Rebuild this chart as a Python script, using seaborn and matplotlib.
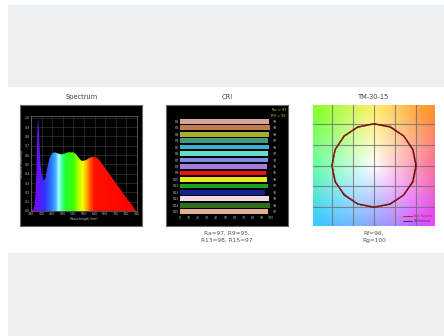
import numpy as np
import matplotlib
matplotlib.use("Agg")
import matplotlib.pyplot as plt
from matplotlib.patches import Rectangle
from matplotlib.lines import Line2D
from matplotlib.colors import LinearSegmentedColormap
import seaborn as sns
import pandas as pd

# ---------------- data ----------------
wavelength_nm = [380, 390, 395, 400, 403, 406, 409, 412, 416, 420, 425, 430, 435, 440,
                 450, 460, 470, 480, 490, 500, 510, 520, 530, 540, 550, 560, 570, 580,
                 590, 600, 610, 620, 630, 640, 660, 680, 700, 720, 740, 760, 776, 780]
relative_power = [0.0, 0.02, 0.08, 0.38, 0.75, 1.0, 0.92, 0.7, 0.5, 0.4, 0.34, 0.33, 0.36, 0.45,
                  0.57, 0.62, 0.63, 0.62, 0.61, 0.61, 0.62, 0.63, 0.63, 0.63, 0.61, 0.57, 0.54, 0.54,
                  0.55, 0.57, 0.58, 0.58, 0.57, 0.54, 0.46, 0.38, 0.30, 0.22, 0.14, 0.07, 0.0, 0.0]
spec_xticks = [380, 420, 460, 500, 540, 580, 620, 660, 700, 740, 780]
spec_yticks = [0.0, 0.1, 0.2, 0.3, 0.4, 0.5, 0.6, 0.7, 0.8, 0.9, 1.0]

cri_labels = ["R1", "R2", "R3", "R4", "R5", "R6", "R7", "R8", "R9", "R10",
              "R11", "R12", "R13", "R14", "R15"]
cri_values = [98, 99, 98, 97, 98, 97, 97, 96, 95, 96, 97, 93, 98, 99, 97]
cri_xticks = [0, 10, 20, 30, 40, 50, 60, 70, 80, 90, 100]
cri_colors = ["#d6a59c", "#c07c4c", "#a8ae2a", "#3f9a80", "#3cb0d0", "#5ee0c8",
              "#7f8ce6", "#a07ee0", "#f01010", "#e8e820", "#20a020", "#14208c",
              "#f0d8e0", "#2a6e1e", "#e8b090"]
ra_value = 97

hue_bin_deg = [0, 22.5, 45, 67.5, 90, 112.5, 135, 157.5, 180, 202.5, 225, 247.5,
               270, 292.5, 315, 337.5]
ref_radius = [1.0] * 16
test_radius = [1.01, 0.99, 1.0, 1.02, 1.0, 0.99, 1.01, 1.0, 0.99, 1.01, 0.98, 1.0,
               1.01, 0.99, 1.0, 1.02]

titles = ["Spectrum", "CRI", "TM-30-15"]
cri_caption = "Ra=97, R9=95,\nR13=98, R15=97"
tm_caption = "Rf=96,\nRg=100"

# ---------------- figure ----------------
sns.set_theme(style="white")
plt.rcParams['font.family'] = ['DejaVu Sans']
W, H = 444, 336
fig = plt.figure(figsize=(W / 100, H / 100), dpi=100)
fig.patch.set_facecolor("white")

def fr(x0, y0, x1, y1):
    return [x0 / W, 1 - y1 / H, (x1 - x0) / W, (y1 - y0) / H]

gray = "#edf0f3"
fig.patches.append(Rectangle((8 / W, 1 - 87 / H), 1, (87 - 5) / H, transform=fig.transFigure,
                             facecolor=gray, edgecolor="none", zorder=-10))
fig.patches.append(Rectangle((8 / W, 0), 1, (336 - 253) / H, transform=fig.transFigure,
                             facecolor=gray, edgecolor="none", zorder=-10))

title_col = "#444444"
for cx, t in zip([82, 227, 374], titles):
    fig.text(cx / W, 1 - 97 / H, t, ha="center", va="center", fontsize=4.8, color=title_col)

tick_col = "#b8b8b8"
tfs = 2.3

def frame(box):
    a = fig.add_axes(fr(*box))
    a.set_facecolor("black")
    a.set_xticks([]); a.set_yticks([])
    for s in a.spines.values():
        s.set_color("#6a6a6a"); s.set_linewidth(0.8)
    return a

# ---------------- Spectrum ----------------
frame((20, 105, 142, 226))
ax = fig.add_axes(fr(31, 116, 137, 211))
ax.set_facecolor("black")
ax.set_xlim(380, 780)
ax.set_ylim(0, 1.02)
ax.set_xticks(spec_xticks)
ax.set_yticks(spec_yticks)
ax.set_xticklabels([str(v) for v in spec_xticks])
ax.set_yticklabels([f"{v:.1f}" for v in spec_yticks])
ax.tick_params(labelsize=tfs, colors=tick_col, length=0, pad=1)
ax.grid(True, color="#3c3c3c", linewidth=0.4)
for s in ax.spines.values():
    s.set_color("#707070"); s.set_linewidth(0.5)
ax.set_xlabel("Wavelength (nm)", fontsize=tfs, color=tick_col, labelpad=0.5)
ax.set_ylabel("Relative Intensity", fontsize=tfs, color=tick_col, labelpad=0.5)

poly = ax.fill_between(wavelength_nm, relative_power, 0, facecolor="none", edgecolor="none")
stops = [(380, "#7a00ff"), (405, "#6a10ff"), (430, "#3030ff"), (455, "#3070ff"),
         (472, "#40b0ff"), (485, "#b0ffff"), (495, "#40ffa0"), (510, "#20ff30"),
         (540, "#40ff00"), (560, "#b0ff00"), (575, "#ffff00"), (590, "#ffb000"),
         (605, "#ff5000"), (620, "#ff1000"), (780, "#ff0000")]
cmap = LinearSegmentedColormap.from_list(
    "spec", [((w - 380) / 400, c) for w, c in stops])
grad = np.linspace(0, 1, 400)[None, :]
im = ax.imshow(grad, cmap=cmap, extent=[380, 780, 0, 1.02], aspect="auto", origin="lower", zorder=2)
im.set_clip_path(poly.get_paths()[0], transform=ax.transData)
sns.lineplot(x=wavelength_nm, y=relative_power, ax=ax, color="none", linewidth=0, zorder=3,
             estimator=None)

# ---------------- CRI ----------------
frame((166, 105, 288, 226))
ax2 = fig.add_axes(fr(180, 118, 271, 215))
ax2.set_facecolor("black")
df = pd.DataFrame({"label": cri_labels, "value": cri_values})
sns.barplot(data=df, x="value", y="label", hue="label", palette=cri_colors, orient="h",
            width=0.74, ax=ax2, legend=False, saturation=1, edgecolor="none")
ax2.set_xlim(0, 100)
ax2.set_xticks(cri_xticks)
ax2.set_xlabel(""); ax2.set_ylabel("")
ax2.tick_params(labelsize=tfs, colors=tick_col, length=0, pad=1)
for s in ax2.spines.values():
    s.set_visible(False)
ylim = ax2.get_ylim()
axr = ax2.twinx()
axr.set_ylim(ylim)
axr.set_yticks(range(len(cri_values)))
axr.set_yticklabels([str(v) for v in cri_values])
axr.tick_params(labelsize=tfs, colors=tick_col, length=0, pad=1.5)
for s in axr.spines.values():
    s.set_visible(False)
axr.grid(False)
fig.text(286 / W, 1 - 109.5 / H, f"Ra = {ra_value}", ha="right", va="center",
         fontsize=2.6, color="#c8c818")
fig.text(286 / W, 1 - 116 / H, f"R9 = {cri_values[8]}", ha="right", va="center",
         fontsize=2.6, color="#c8c818")
fig.text(227 / W, 1 - 237 / H, cri_caption, ha="center", va="center", fontsize=4.2,
         color="#555555", linespacing=1.5)

# ---------------- TM-30 ----------------
ax3 = fig.add_axes(fr(313, 105, 435, 226))
lim = 1.45
n = 300
g = np.linspace(-lim, lim, n)
X, Y = np.meshgrid(g, g)
theta = np.degrees(np.arctan2(Y, X)) % 360
hstops = [0, 45, 90, 135, 180, 225, 270, 315, 360]
hcols = np.array([[1.0, 0.30, 0.50], [1.0, 0.58, 0.22], [1.0, 0.92, 0.25], [0.55, 1.0, 0.20],
                  [0.25, 1.0, 0.55], [0.25, 0.80, 1.0], [0.45, 0.55, 1.0], [0.88, 0.30, 1.0],
                  [1.0, 0.30, 0.50]])
rgb = np.stack([np.interp(theta, hstops, hcols[:, k]) for k in range(3)], -1)
r = np.hypot(X, Y) / lim
s = np.clip(r / 1.25, 0, 1) ** 0.9
img = 1 - s[..., None] * (1 - rgb)
ax3.imshow(img, extent=[-lim, lim, -lim, lim], origin="lower", aspect="auto", zorder=0)
ax3.set_xlim(-lim, lim); ax3.set_ylim(-lim, lim)
ax3.set_xticks([-1, -0.5, 0, 0.5, 1]); ax3.set_yticks([-1, -0.5, 0, 0.5, 1])
ax3.grid(True, color="#707070", linewidth=0.8, alpha=0.8)
ax3.tick_params(length=0, labelleft=False, labelbottom=False)
for sp in ax3.spines.values():
    sp.set_visible(False)

ang = np.radians(hue_bin_deg + [hue_bin_deg[0]])
rr = np.array(ref_radius + [ref_radius[0]])
tr = np.array(test_radius + [test_radius[0]])
ref_df = pd.DataFrame({"x": rr * np.cos(ang), "y": rr * np.sin(ang)})
test_df = pd.DataFrame({"x": tr * np.cos(ang), "y": tr * np.sin(ang)})
sns.lineplot(data=ref_df, x="x", y="y", sort=False, estimator=None, ax=ax3, color="#3a1010",
             linewidth=1.1, zorder=3)
sns.lineplot(data=test_df, x="x", y="y", sort=False, estimator=None, ax=ax3, color="#e01818",
             linewidth=0.7, zorder=4, linestyle=(0, (3, 1.5)))
ax3.set_xlabel(""); ax3.set_ylabel("")

ax3.text(0.97, 0.95, "Rf = 96", transform=ax3.transAxes, ha="right", va="center",
         fontsize=2.6, color="#ffa000")
ax3.text(0.97, 0.895, "Rg = 100", transform=ax3.transAxes, ha="right", va="center",
         fontsize=2.6, color="#ffa000")
handles = [Line2D([], [], color="#e01818", lw=0.7), Line2D([], [], color="#303070", lw=0.7)]
leg = ax3.legend(handles, ["Test Source", "Reference"], loc="lower right", fontsize=2.4,
                 frameon=False, handlelength=2.5, borderpad=0.3, labelspacing=0.3,
                 handletextpad=0.5)
for t, c in zip(leg.get_texts(), ["#e01818", "#303070"]):
    t.set_color(c)
fig.text(374 / W, 1 - 237 / H, tm_caption, ha="center", va="center", fontsize=4.2,
         color="#555555", linespacing=1.5)

fig.savefig("out.png", dpi=100, facecolor="white")
